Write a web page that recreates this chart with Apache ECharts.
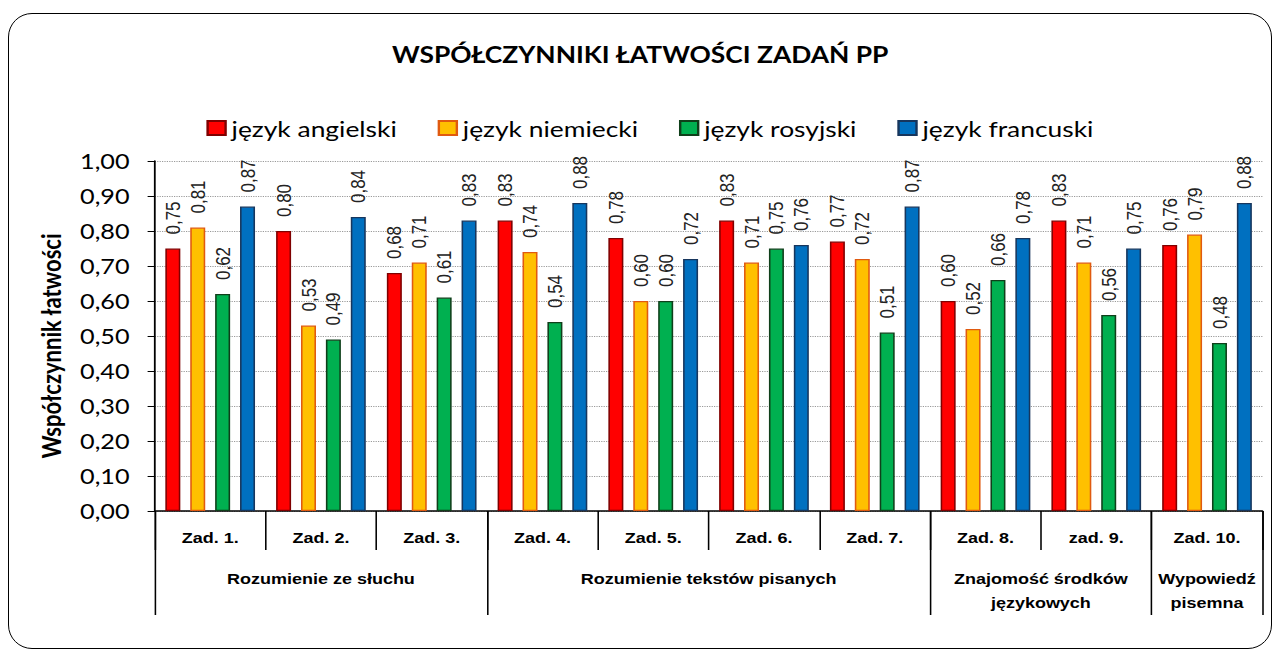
<!DOCTYPE html>
<html>
<head>
<meta charset="utf-8">
<script src="https://cdn.jsdelivr.net/npm/echarts@6/dist/echarts.min.js"></script>
<style>
html,body{margin:0;padding:0;background:#fff;overflow:hidden;}
#chart{position:absolute;left:0;top:0;width:1067px;height:657px;transform:scaleX(1.2);transform-origin:0 0;}
#frame{position:absolute;left:8px;top:13px;width:1262px;height:634px;border:1.5px solid #000;border-radius:24px;pointer-events:none;}
</style>
</head>
<body>
<div id="chart"></div>
<div id="frame"></div>
<script>
const categories = ['Zad. 1.','Zad. 2.','Zad. 3.','Zad. 4.','Zad. 5.','Zad. 6.','Zad. 7.','Zad. 8.','zad. 9.','Zad. 10.'];
const groupNames = ['Rozumienie ze słuchu','Rozumienie tekstów pisanych','Znajomość środków\njęzykowych','Wypowiedź\npisemna'];
const groupBounds = [0,3,7,9,10];
const seriesNames = ['język angielski','język niemiecki','język rosyjski','język francuski'];
const angielski = [0.75,0.80,0.68,0.83,0.78,0.83,0.77,0.60,0.83,0.76];
const niemiecki = [0.81,0.53,0.71,0.74,0.60,0.71,0.72,0.52,0.71,0.79];
const rosyjski  = [0.62,0.49,0.61,0.54,0.60,0.75,0.51,0.66,0.56,0.48];
const francuski = [0.87,0.84,0.83,0.88,0.72,0.76,0.87,0.78,0.75,0.88];

const fills = ['#FF0000','#FFC000','#00B050','#0070C0'];
const borders = ['#7F0000','#E05A10','#0F3F1A','#17365D'];
const values = [angielski,niemiecki,rosyjski,francuski];

const groupCenters = [];
const groupLabelMap = {};
for (let i=0;i<groupNames.length;i++){
  const c = (groupBounds[i]+groupBounds[i+1])/2;
  groupCenters.push(c);
  groupLabelMap[c] = groupNames[i];
}
const fmt = v => v.toFixed(2).replace('.',',');
const axisFont = "'Liberation Sans', Arial, sans-serif";

const chart = echarts.init(document.getElementById('chart'), null, {renderer:'svg'});
chart.setOption({
  animation:false,
  title:{
    text:'WSPÓŁCZYNNIKI ŁATWOŚCI ZADAŃ PP',
    left:'center', top:38,
    textStyle:{fontFamily:'Lato',fontWeight:'bold',fontSize:22,color:'#000'}
  },
  legend:{
    top:112, left:167,
    itemWidth:15, itemHeight:14, itemGap:34,
    icon:'rect',
    textStyle:{fontFamily:'Lato',fontSize:22,color:'#000'},
    data:seriesNames
  },
  grid:{left:129,right:15,top:161,bottom:146,containLabel:false},
  xAxis:[{
    type:'category',
    data:categories,
    position:'bottom',
    axisLine:{lineStyle:{color:'#000',width:1.5}},
    axisTick:{show:true,length:39,interval:0,lineStyle:{color:'#000',width:1.3}},
    axisLabel:{interval:0,margin:27,verticalAlign:'middle',fontFamily:axisFont,fontWeight:'bold',fontSize:15,color:'#000'}
  },{
    type:'value',
    min:0,max:10,
    position:'bottom',
    axisLine:{show:false},
    splitLine:{show:false},
    axisTick:{show:true,length:104,customValues:groupBounds,lineStyle:{color:'#000',width:1.3}},
    axisLabel:{
      customValues:groupCenters,
      margin:56,
      lineHeight:24,
      verticalAlign:'top',
      fontFamily:axisFont,fontWeight:'bold',fontSize:15,color:'#000',
      formatter:v=>groupLabelMap[v]||''
    }
  }],
  yAxis:{
    type:'value',
    min:0,max:1,interval:0.1,
    name:'Współczynnik łatwości',
    nameLocation:'middle',
    nameGap:76,
    nameTextStyle:{fontFamily:'Lato',fontWeight:'bold',fontSize:22,color:'#000',padding:[0,20,0,0]},
    axisLine:{show:true,lineStyle:{color:'#000',width:1.5}},
    axisTick:{show:true,length:6,lineStyle:{color:'#000'}},
    axisLabel:{margin:21,fontFamily:'Lato',fontSize:21,color:'#000',formatter:fmt},
    splitLine:{show:true,lineStyle:{color:'#9a9a9a',type:'dotted',width:1}}
  },
  series:seriesNames.map((n,i)=>({
    name:n,
    type:'bar',
    xAxisIndex:0,
    data:values[i],
    barWidth:12.5,
    barGap:'66%',
    itemStyle:{color:fills[i],borderColor:borders[i],borderWidth:1.3},
    label:{
      show:true,position:'top',rotate:90,align:'left',verticalAlign:'middle',distance:14,
      fontFamily:axisFont,fontSize:17,color:'#222',
      formatter:p=>fmt(p.value)
    }
  }))
});
</script>
</body>
</html>
